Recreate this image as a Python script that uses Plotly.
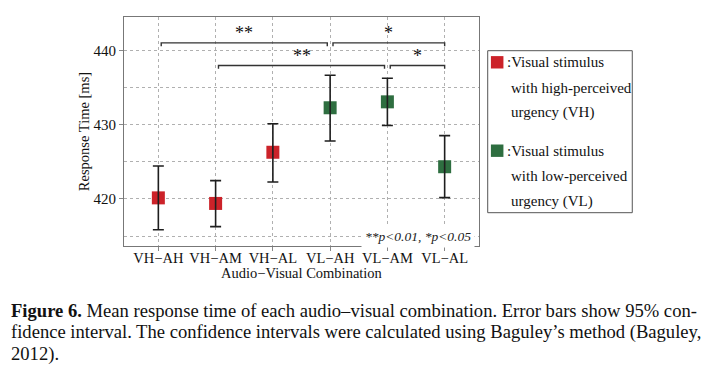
import plotly.graph_objects as go

# ---------------- data ----------------
combos = ["VH\u2212AH", "VH\u2212AM", "VH\u2212AL", "VL\u2212AH", "VL\u2212AM", "VL\u2212AL"]
groups = ["VH", "VH", "VH", "VL", "VL", "VL"]
mean_rt = [420.15, 419.40, 426.30, 432.30, 433.10, 424.35]
ci_upper = [424.45, 422.47, 430.15, 436.68, 436.28, 428.55]
ci_lower = [415.85, 416.27, 422.30, 427.82, 429.90, 420.18]

sig_from = ["VH\u2212AH", "VL\u2212AH", "VH\u2212AM", "VL\u2212AM"]
sig_to = ["VL\u2212AH", "VL\u2212AL", "VL\u2212AM", "VL\u2212AL"]
sig_label = ["**", "*", "**", "*"]
sig_level = [441.05, 441.05, 438.0, 438.0]

y_ticks = [420, 430, 440]
legend_groups = ["VH", "VL"]
legend_text = [
    [":Visual stimulus", "with high-perceived", "urgency (VH)"],
    [":Visual stimulus", "with low-perceived", "urgency (VL)"],
]
caption_lines = [
    "<b>Figure 6.</b> Mean response time of each audio\u2013visual combination. Error bars show 95% con-",
    "fidence interval. The confidence intervals were calculated using Baguley\u2019s method (Baguley,",
    "2012).",
]

# ---------------- style ----------------
FONT = "Liberation Serif, Times New Roman, serif"
COLORS = {"VH": "#cc2229", "VL": "#2e6e40"}
PAGE_OFF = 8                      # default body margin of the html page
W, H = 713 - 2 * PAGE_OFF, 376 - 2 * PAGE_OFF
# plot-area edges in screen pixels
SL, SR, ST, SB = 124, 478.6, 17, 246
L, R, T, B = SL - PAGE_OFF, SR - PAGE_OFF, ST - PAGE_OFF, SB - PAGE_OFF

def px_x(px):
    return (px - SL) / (SR - SL)

def px_y(py):
    return (SB - py) / (SB - ST)

xi = list(range(len(combos)))
idx = {c: i for i, c in enumerate(combos)}

fig = go.Figure()

# markers
fig.add_trace(go.Scatter(
    x=xi, y=mean_rt, mode="markers",
    marker=dict(symbol="square", size=13, color=[COLORS[g] for g in groups],
                line=dict(width=0)),
    showlegend=False, hoverinfo="skip"))

# error bars drawn on top
fig.add_trace(go.Scatter(
    x=xi, y=mean_rt, mode="markers",
    marker=dict(size=1, opacity=0),
    error_y=dict(type="data", symmetric=False,
                 array=[u - m for u, m in zip(ci_upper, mean_rt)],
                 arrayminus=[m - l for m, l in zip(mean_rt, ci_lower)],
                 color="#1e1e1e", thickness=1.6, width=5.5),
    showlegend=False, hoverinfo="skip"))

# significance brackets
tip = 0.45
gap = 0.05
annotations = []
for a, b, lab, lev in zip(sig_from, sig_to, sig_label, sig_level):
    x1 = idx[a] + gap
    x2 = idx[b] - (gap if idx[b] < len(combos) - 1 else 0)
    fig.add_trace(go.Scatter(
        x=[x1, x1, x2, x2], y=[lev - tip, lev, lev, lev - tip], mode="lines",
        line=dict(color="#333333", width=1.4), showlegend=False, hoverinfo="skip"))
    annotations.append(dict(
        x=(x1 + x2) / 2, y=lev - 0.3, xref="x", yref="y", text=lab,
        showarrow=False, yanchor="bottom", font=dict(family=FONT, size=18, color="#111")))

# p-value note
annotations.append(dict(
    x=px_x(475), y=px_y(236.7), xref="paper", yref="paper",
    text="<i>**p&lt;0.01, *p&lt;0.05</i>", showarrow=False, bgcolor="white", borderpad=3,
    xanchor="right", yanchor="middle", font=dict(family=FONT, size=13.5, color="#222")))

# custom legend
shapes = [dict(type="rect", xref="paper", yref="paper",
               x0=px_x(487.3), x1=px_x(631.7), y0=px_y(212.7), y1=px_y(50.7),
               line=dict(color="#555555", width=1), fillcolor="white")]
line_centers = [[62.3, 87.7, 112.7], [150.7, 176.0, 201.7]]
for g, lines, cy in zip(legend_groups, legend_text, line_centers):
    shapes.append(dict(type="rect", xref="paper", yref="paper",
                       x0=px_x(490.5), x1=px_x(503), y0=px_y(cy[0] + 6.2), y1=px_y(cy[0] - 6.2),
                       line=dict(width=0), fillcolor=COLORS[g]))
    for k, (txt, y) in enumerate(zip(lines, cy)):
        annotations.append(dict(
            x=px_x(504.5 if k == 0 else 508.5), y=px_y(y), xref="paper", yref="paper",
            text=txt, showarrow=False, xanchor="left", yanchor="middle",
            font=dict(family=FONT, size=15, color="#111")))

# caption
for txt, y in zip(caption_lines, [310, 332, 354]):
    annotations.append(dict(
        x=px_x(9), y=px_y(y), xref="paper", yref="paper", text=txt,
        showarrow=False, xanchor="left", yanchor="middle",
        font=dict(family=FONT, size=18.6, color="#111")))

grid = dict(showgrid=True, gridcolor="#b0b0b0", gridwidth=0.8, griddash="dot")
fig.update_layout(
    width=W, height=H,
    margin=dict(l=L, r=W - R, t=T, b=H - B, pad=0, autoexpand=False),
    paper_bgcolor="white", plot_bgcolor="white",
    font=dict(family=FONT, size=14, color="#111"),
    xaxis=dict(range=[-0.6, len(combos) - 0.4], tickmode="array", tickvals=xi, ticktext=combos,
               ticks="outside", ticklen=4, tickcolor="#888", zeroline=False, automargin=False,
               ticklabelstandoff=-6,
               showline=True, mirror=True, linecolor="#777777", linewidth=1.2,
               tickfont=dict(family=FONT, size=14.5, color="#111"),
               title=dict(text="Audio\u2212Visual Combination", standoff=1,
                          font=dict(family=FONT, size=14.5, color="#111")),
               **grid),
    yaxis=dict(range=[413.66, 444.54], tickmode="array", tickvals=y_ticks,
               ticks="outside", ticklen=4, tickcolor="#888", zeroline=False, automargin=False,
               showline=True, mirror=True, linecolor="#777777", linewidth=1.2,
               tickfont=dict(family=FONT, size=15, color="#111"),
               minor=dict(tickvals=[415, 425, 435], showgrid=True, gridcolor="#b0b0b0",
                          gridwidth=0.8, griddash="dot"),
               title=dict(text="Response Time [ms]", standoff=0,
                          font=dict(family=FONT, size=14.5, color="#111")),
               **grid),
    shapes=shapes, annotations=annotations,
)

fig.write_html("out.html")
